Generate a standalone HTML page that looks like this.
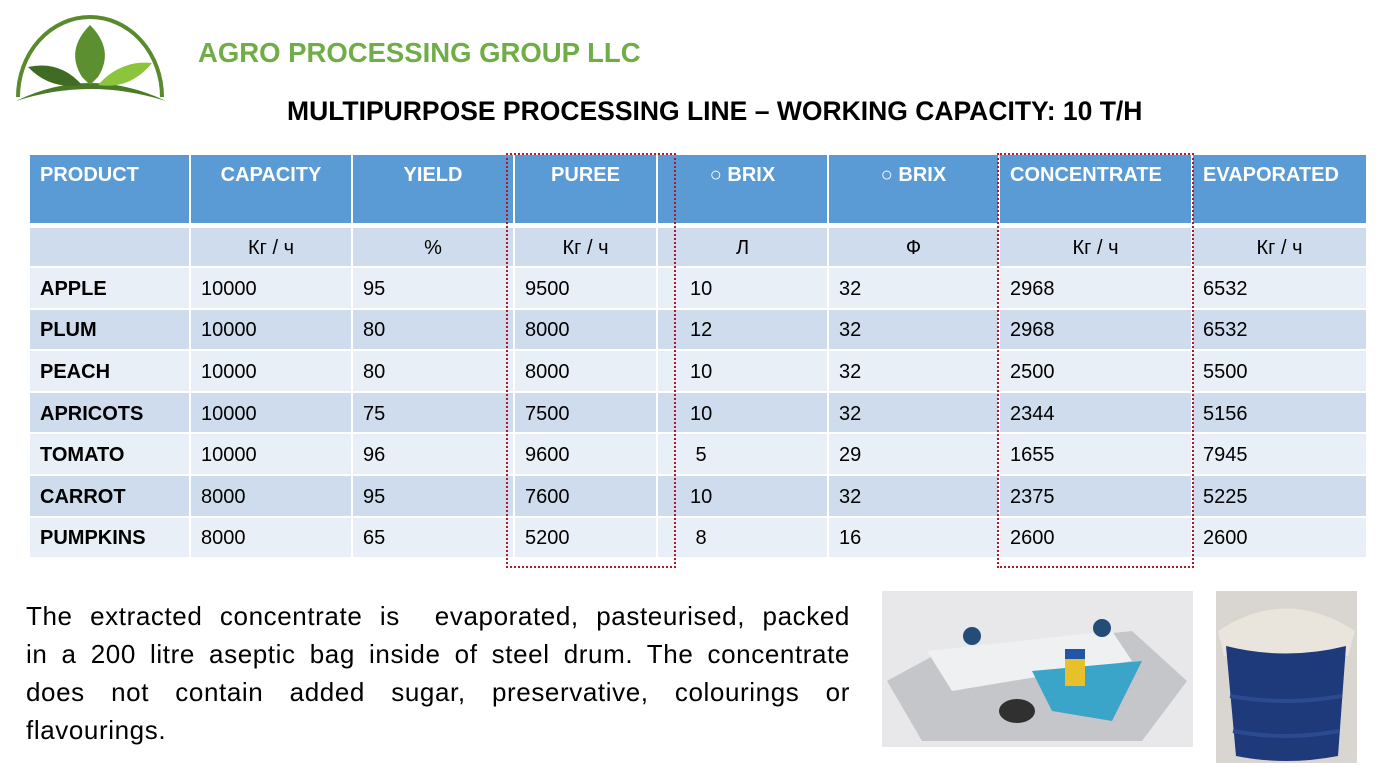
<!DOCTYPE html>
<html><head><meta charset="utf-8">
<style>
body{margin:0;width:1389px;height:782px;background:#fff;position:relative;overflow:hidden;font-family:"Liberation Sans",sans-serif}
.abs{position:absolute}
.cell{position:absolute;box-sizing:border-box;font-size:20px;color:#000;display:flex;align-items:center}
.hd{background:#5B9BD5;color:#fff;font-weight:bold;align-items:flex-start;padding-top:8px}
.box{position:absolute;border:2px dotted #B0182A;box-sizing:border-box}
.ln{text-align:justify;text-align-last:justify;white-space:nowrap;height:38px}
</style></head><body>
<svg class="abs" style="left:10px;top:5px" width="160" height="100" viewBox="0 0 160 100">
<path d="M8 92 A72 80 0 0 1 152 92" fill="none" stroke="#5a8a2e" stroke-width="4"/>
<path d="M6 96 Q80 60 156 96 Q80 72 6 96Z" fill="#4a7a28"/>
<path d="M80 20 Q55 45 72 72 L80 80 L88 72 Q105 45 80 20Z" fill="#5c8f2f"/>
<path d="M18 62 Q50 55 72 80 Q40 85 18 62Z" fill="#3f6b22"/>
<path d="M142 58 Q110 55 88 80 Q120 85 142 58Z" fill="#8cc43c"/>
</svg>
<div class="abs" style="left:198px;top:37px;font-size:27.5px;font-weight:bold;color:#70AD47">AGRO PROCESSING GROUP LLC</div>
<div class="abs" style="left:287px;top:96px;font-size:26.5px;font-weight:bold;color:#000;white-space:nowrap">MULTIPURPOSE PROCESSING LINE – WORKING CAPACITY: 10 T/H</div>
<div id="tbl"></div>
<div class="box" style="left:506px;top:153px;width:170px;height:415px"></div>
<div class="box" style="left:997px;top:153px;width:197px;height:415px"></div>
<div class="abs" style="left:26px;top:597px;width:824px;font-size:26px;line-height:38px;letter-spacing:0.6px;color:#000">
<div class="ln">The extracted concentrate is&nbsp; evaporated, pasteurised, packed</div>
<div class="ln">in a 200 litre aseptic bag inside of steel drum. The concentrate</div>
<div class="ln">does not contain added sugar, preservative, colourings or</div>
<div style="height:38px">flavourings.</div>
</div>
<svg class="abs" style="left:882px;top:591px" width="311" height="156">
<rect width="311" height="156" fill="#e8e8ea"/>
<path d="M5 90 L60 60 L250 40 L305 90 L260 150 L40 150Z" fill="#c4c6ca"/>
<path d="M45 60 L230 40 L250 70 L70 100Z" fill="#eef0f2"/>
<path d="M150 80 L260 70 L230 130 L170 120Z" fill="#3aa5c8"/>
<circle cx="90" cy="45" r="9" fill="#234d78"/><circle cx="220" cy="37" r="9" fill="#234d78"/>
<rect x="183" y="65" width="20" height="30" fill="#e8c02a"/><rect x="183" y="58" width="20" height="10" fill="#2255a5"/>
<ellipse cx="135" cy="120" rx="18" ry="12" fill="#303030"/>
</svg>
<svg class="abs" style="left:1216px;top:591px" width="141" height="172">
<rect width="141" height="172" fill="#d9d6d2"/>
<path d="M2 40 Q70 -5 139 40 L132 65 L8 65Z" fill="#e9e4dc"/>
<path d="M10 55 Q70 70 130 55 L122 165 Q70 175 20 165Z" fill="#1e3a7a"/>
<path d="M14 105 Q70 115 126 105" stroke="#2c4a90" stroke-width="4" fill="none"/><path d="M17 140 Q70 150 123 140" stroke="#2c4a90" stroke-width="4" fill="none"/>
</svg>
<script>
const columns=["PRODUCT","CAPACITY","YIELD","PUREE","○ BRIX","○ BRIX","CONCENTRATE","EVAPORATED"];
const units=["","Кг / ч","%","Кг / ч","Л","Ф","Кг / ч","Кг / ч"];
const products=["APPLE","PLUM","PEACH","APRICOTS","TOMATO","CARROT","PUMPKINS"];
const capacity=[10000,10000,10000,10000,10000,8000,8000];
const yieldPct=[95,80,80,75,96,95,65];
const puree=[9500,8000,8000,7500,9600,7600,5200];
const brixL=[10,12,10,10,5,10,8];
const brixF=[32,32,32,32,29,32,16];
const concentrate=[2968,2968,2500,2344,1655,2375,2600];
const evaporated=[6532,6532,5500,5156,7945,5225,2600];
const xs=[30,191,353,515,658,829,1000,1193,1368];
const hdAlign=["left","center","center","center","center","center","left","left"];
const pads=[10,10,10,10,32,10,10,10];
const t=document.getElementById('tbl');
function cell(x,y,w,h,txt,cls,bg,align,bold,pad){
 const d=document.createElement('div');
 d.className='cell'+(cls?' '+cls:'');
 d.style.left=x+'px';d.style.top=y+'px';d.style.width=w+'px';d.style.height=h+'px';
 if(bg)d.style.background=bg;
 d.style.justifyContent=align;d.style.padding=align==='center'?'':'0 0 0 '+pad+'px';
 if(cls==='hd')d.style.paddingTop='9px';
 if(bold)d.style.fontWeight='bold';
 d.textContent=txt;
 t.appendChild(d);return d;
}
for(let c=0;c<8;c++){
 const w=xs[c+1]-xs[c]-2;
 const h=cell(xs[c],155,w,68,columns[c],'hd',null,hdAlign[c]==='center'?'center':'flex-start',false,10);
 
 
 const u=cell(xs[c],228,w,38,units[c],null,'#CFDCEE',c===0?'flex-start':'center',false,10);
 u.style.paddingTop='3px';
 
 
}
for(let r=0;r<products.length;r++){
 const vals=[products[r],capacity[r],yieldPct[r],puree[r],(brixL[r]<10?' ':'')+brixL[r],brixF[r],concentrate[r],evaporated[r]];
 const y=268+r*41.6;
 const bg=r%2===0?'#E9EFF7':'#CFDCEE';
 for(let c=0;c<8;c++){
  const d=cell(xs[c],y,xs[c+1]-xs[c]-2,39.6,String(vals[c]),null,bg,'flex-start',c===0,pads[c]);
  d.style.whiteSpace='pre';
  d.style.paddingTop='3px';
  
  
 }
}
</script>
</body></html>
